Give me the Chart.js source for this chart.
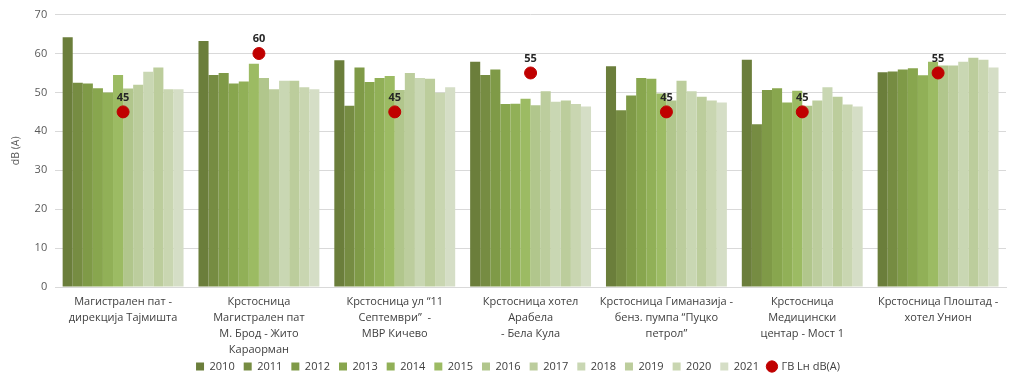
<!DOCTYPE html>
<html>
<head>
<meta charset="utf-8">
<script src="https://cdn.jsdelivr.net/npm/chart.js@4"></script>
<style>
  html, body { margin: 0; padding: 0; background: #fff; }
  #wrap { width: 1024px; height: 378px; }
</style>
</head>
<body>
<div id="wrap"><canvas id="noise-chart" width="1024" height="378"></canvas></div>
<script>
"use strict";

// measuring points (x axis)
var locations = [
  ["Магистрален пат -", "дирекција Тајмишта"],
  ["Крстосница", "Магистрален пат", "М. Брод - Жито", "Караорман"],
  ["Крстосница ул “11", "Септември”  -", "МВР Кичево"],
  ["Крстосница хотел", "Арабела", "- Бела Кула"],
  ["Крстосница Гиманазија -", "бенз. пумпа “Пуцко", "петрол”"],
  ["Крстосница", "Медицински", "центар - Мост 1"],
  ["Крстосница Плоштад -", "хотел Унион"]
];

var years = ["2010", "2011", "2012", "2013", "2014", "2015", "2016", "2017", "2018", "2019", "2020", "2021"];

// one array per location, 2010..2021
var loc1 = [64.2, 52.5, 52.3, 51.1, 50.0, 54.5, 51.0, 52.0, 55.3, 56.4, 50.8, 50.8];
var loc2 = [63.2, 54.5, 55.0, 52.3, 52.8, 57.4, 53.7, 50.8, 53.0, 53.0, 51.3, 50.8];
var loc3 = [58.3, 46.6, 56.4, 52.7, 53.7, 54.2, 50.6, 55.0, 53.7, 53.5, 49.9, 51.3];
var loc4 = [57.9, 54.5, 55.9, 47.0, 47.1, 48.4, 46.7, 50.3, 47.6, 47.9, 47.0, 46.4];
var loc5 = [56.7, 45.4, 49.2, 53.7, 53.5, 49.7, 47.9, 53.0, 50.3, 48.9, 47.9, 47.4];
var loc6 = [58.4, 41.8, 50.6, 51.1, 47.4, 50.4, 46.6, 47.9, 51.3, 48.9, 46.9, 46.4];
var loc7 = [55.2, 55.4, 55.9, 56.2, 54.4, 57.9, 56.9, 56.9, 57.9, 58.9, 58.4, 56.4];

// limit value ГВ Lн dB(A)
var limits = [45, 60, 45, 55, 45, 45, 55];

var yearColors = ["#6b7e3b", "#768c42", "#7f9a47", "#88a64e", "#91b057", "#9cbb63",
                  "#b1c68c", "#bccd9d", "#c9d7b3", "#bccd9c", "#c9d6b1", "#d5dec6"];

var allLocs = [loc1, loc2, loc3, loc4, loc5, loc6, loc7];

var datasets = [];
for (var y = 0; y < years.length; y++) {
  var vals = [];
  for (var l = 0; l < allLocs.length; l++) {
    vals.push(allLocs[l][y]);
  }
  datasets.push({
    type: "bar",
    label: years[y],
    data: vals,
    backgroundColor: yearColors[y],
    borderWidth: 0,
    pointStyle: "rect",
    order: 1
  });
}
datasets.push({
  type: "line",
  label: "ГВ Lн dB(A)",
  data: limits,
  showLine: false,
  pointStyle: "circle",
  pointRadius: 6,
  pointBackgroundColor: "#c00000",
  pointBorderColor: "#c00000",
  backgroundColor: "#c00000",
  borderColor: "#c00000",
  order: 0
});

// numbers above the red points
var pointLabels = {
  id: "pointLabels",
  afterLayout: function(chart) {
    // x labels are allowed to reach into the legend band, don't clip them
    chart.scales.x.bottom = chart.height;
    // legend sits a bit right of centre in the original
    chart.legend.left += 10;
    chart.legend.right += 10;
  },
  afterDatasetsDraw: function(chart) {
    var c = chart.ctx;
    var meta = chart.getDatasetMeta(datasets.length - 1);
    c.save();
    c.font = "bold 11px 'Open Sans', sans-serif";
    c.fillStyle = "#262626";
    c.textAlign = "center";
    c.textBaseline = "bottom";
    meta.data.forEach(function(pt, i) {
      c.fillText(String(limits[i]), pt.x, pt.y - 9);
    });
    c.restore();
  }
};

var ctx = document.getElementById("noise-chart").getContext("2d");
new Chart(ctx, {
  type: "bar",
  data: { labels: locations, datasets: datasets },
  plugins: [pointLabels],
  options: {
    responsive: false,
    animation: false,
    layout: { padding: { left: 10, right: 18, top: -2, bottom: -4 } },
    datasets: {
      bar: { categoryPercentage: 0.89, barPercentage: 1.0 }
    },
    scales: {
      x: {
        grid: { display: false, drawTicks: false },
        border: { color: "#d9d9d9" },
        ticks: {
          color: "#404040",
          font: { family: "'Open Sans', sans-serif", size: 11, lineHeight: 1.45 },
          padding: 7,
          maxRotation: 0,
          autoSkip: false
        },
        afterFit: function(scale) {
          scale.height = 65;
        }
      },
      y: {
        min: 0,
        max: 70,
        grid: { color: "#d9d9d9", drawTicks: false },
        border: { display: false },
        ticks: {
          stepSize: 10,
          color: "#595959",
          font: { family: "'Open Sans', sans-serif", size: 11 },
          padding: 8
        },
        title: {
          display: true,
          text: "dB (A)",
          color: "#595959",
          font: { family: "'Open Sans', sans-serif", size: 10.5 },
          padding: { top: 0, bottom: 4 }
        }
      }
    },
    plugins: {
      tooltip: { enabled: false },
      legend: {
        position: "bottom",
        labels: {
          usePointStyle: true,
          boxWidth: 8,
          boxHeight: 8,
          padding: 9,
          color: "#404040",
          font: { family: "'Open Sans', sans-serif", size: 11 },
          sort: function(a, b) { return a.datasetIndex - b.datasetIndex; }
        }
      }
    }
  }
});
</script>
</body>
</html>
